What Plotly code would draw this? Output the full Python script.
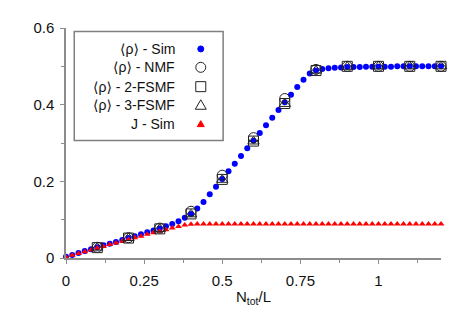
import plotly.graph_objects as go

# --- data ---
x_sim = [0.00, 0.02, 0.04, 0.06, 0.08, 0.10, 0.12, 0.14, 0.16, 0.18,
         0.20, 0.22, 0.24, 0.26, 0.28, 0.30, 0.32, 0.34, 0.36, 0.38,
         0.40, 0.42, 0.44, 0.46, 0.48, 0.50, 0.52, 0.54, 0.56, 0.58,
         0.60, 0.62, 0.64, 0.66, 0.68, 0.70, 0.72, 0.74, 0.76, 0.78,
         0.80, 0.82, 0.84, 0.86, 0.88, 0.90, 0.92, 0.94, 0.96, 0.98,
         1.00, 1.02, 1.04, 1.06, 1.08, 1.10, 1.12, 1.14, 1.16, 1.18, 1.20]

rho_sim = [0.003, 0.008, 0.013, 0.018, 0.023, 0.028, 0.033, 0.037, 0.042, 0.047,
           0.052, 0.057, 0.062, 0.067, 0.072, 0.077, 0.083, 0.089, 0.096, 0.105,
           0.115, 0.129, 0.146, 0.166, 0.186, 0.206, 0.226, 0.246, 0.266, 0.286,
           0.306, 0.326, 0.346, 0.366, 0.386, 0.406, 0.426, 0.446, 0.465, 0.481,
           0.489, 0.493, 0.495, 0.496, 0.497, 0.498, 0.498, 0.498, 0.499, 0.499,
           0.499, 0.499, 0.499, 0.500, 0.500, 0.500, 0.500, 0.500, 0.500, 0.500, 0.500]

j_sim = [0.002, 0.007, 0.012, 0.016, 0.021, 0.026, 0.030, 0.035, 0.039, 0.044,
         0.048, 0.053, 0.057, 0.062, 0.066, 0.070, 0.074, 0.078, 0.082, 0.086,
         0.088, 0.0885, 0.0885, 0.0885, 0.0885, 0.0885, 0.0885, 0.0885, 0.0885, 0.0885,
         0.0885, 0.0885, 0.0885, 0.0885, 0.0885, 0.0885, 0.0885, 0.0885, 0.0885, 0.0885,
         0.0885, 0.0885, 0.0885, 0.0885, 0.0885, 0.0885, 0.0885, 0.0885, 0.0885, 0.0885,
         0.0885, 0.0885, 0.0885, 0.0885, 0.0885, 0.0885, 0.0885, 0.0885, 0.0885, 0.0885, 0.0885]

x_mf = [0.1, 0.2, 0.3, 0.4, 0.5, 0.6, 0.7, 0.8, 0.9, 1.0, 1.1, 1.2]
rho_nmf = [0.028, 0.053, 0.078, 0.122, 0.216, 0.314, 0.416, 0.492, 0.500, 0.500, 0.500, 0.500]
rho_2fsmf = [0.027, 0.052, 0.076, 0.115, 0.205, 0.305, 0.403, 0.489, 0.500, 0.500, 0.500, 0.500]
rho_3fsmf = [0.027, 0.052, 0.076, 0.114, 0.204, 0.304, 0.402, 0.489, 0.499, 0.500, 0.500, 0.500]

names = ["⟨ρ⟩ - Sim", "⟨ρ⟩ - NMF", "⟨ρ⟩ - 2-FSMF", "⟨ρ⟩ - 3-FSMF", "J - Sim"]

x_ticks = [0, 0.25, 0.5, 0.75, 1]
x_ticklabels = ["0", "0.25", "0.5", "0.75", "1"]
y_ticks = [0, 0.2, 0.4, 0.6]
y_ticklabels = ["0", "0.2", "0.4", "0.6"]

FONT = "Liberation Sans, Arial, DejaVu Sans, sans-serif"
AXIS = "#8c8c8c"
INK = "#222222"

fig = go.Figure()

fig.add_trace(go.Scatter(x=x_sim, y=rho_sim, mode="markers", name=names[0],
                         marker=dict(symbol="circle", size=6, color="#0000ff"),
                         cliponaxis=False))
fig.add_trace(go.Scatter(x=x_sim, y=j_sim, mode="markers", name=names[4],
                         marker=dict(symbol="triangle-up", size=6, color="#ff0000"),
                         cliponaxis=False))

open_style = dict(size=10, color=INK, line=dict(color=INK, width=1))
fig.add_trace(go.Scatter(x=x_mf, y=rho_nmf, mode="markers", name=names[1],
                         marker=dict(symbol="circle-open", **open_style), cliponaxis=False))
fig.add_trace(go.Scatter(x=x_mf, y=rho_2fsmf, mode="markers", name=names[2],
                         marker=dict(symbol="square-open", **open_style), cliponaxis=False))
fig.add_trace(go.Scatter(x=x_mf, y=rho_3fsmf, mode="markers", name=names[3],
                         marker=dict(symbol="triangle-up-open", **open_style), cliponaxis=False))

# --- hand-made legend: text right-aligned, symbol on the right ---
fig.add_shape(type="rect", xref="paper", yref="paper",
              x0=0.022, x1=0.419, y0=0.511, y1=0.985,
              line=dict(color="#808080", width=1.5), fillcolor="white", layer="above")

row_y = [0.909, 0.829, 0.745, 0.664, 0.582]
text_x = 0.2955
sym_x = 0.3594
for name, ry in zip(names, row_y):
    fig.add_annotation(xref="paper", yref="paper", x=text_x, y=ry, text=name,
                       showarrow=False, xanchor="right", yanchor="middle",
                       font=dict(size=14, color="#111", family=FONT))

def sym(path=None, kind="path", fill="rgba(0,0,0,0)", color=INK, width=1, ry=0.5, r=3):
    d = dict(xref="paper", yref="paper", xsizemode="pixel", ysizemode="pixel",
             xanchor=sym_x, yanchor=ry, layer="above",
             line=dict(color=color, width=width), fillcolor=fill)
    if kind == "path":
        d.update(type="path", path=path)
    else:
        d.update(type=kind, x0=-r, x1=r, y0=-r, y1=r)
    fig.add_shape(**d)

sym(kind="circle", fill="#0000ff", color="#0000ff", ry=row_y[0], r=3)
sym(kind="circle", ry=row_y[1], r=5)
sym(kind="rect", ry=row_y[2], r=5)
sym(path="M -5.5,-4 L 5.5,-4 L 0,5.5 Z", ry=row_y[3])
sym(path="M -3.5,-2.5 L 3.5,-2.5 L 0,3.5 Z", fill="#ff0000", color="#ff0000", ry=row_y[4])

# page body has an 8px margin, so the figure is shrunk by that much
fig.update_layout(
    width=461, height=320,
    margin=dict(l=58, r=28, t=11, b=70),
    paper_bgcolor="white", plot_bgcolor="white",
    showlegend=False,
    font=dict(family=FONT, size=15, color="#111"),
    xaxis=dict(
        range=[0, 1.2], tickvals=x_ticks, ticktext=x_ticklabels,
        showgrid=False, zeroline=False, showline=True, linecolor=AXIS, linewidth=1.5,
        ticks="outside", ticklen=4, tickcolor=AXIS, tickwidth=1,
        minor=dict(dtick=0.125, tick0=0, ticks="outside", ticklen=3, tickcolor=AXIS, showgrid=False),
        tickfont=dict(size=15), ticklabelstandoff=4,
        title=dict(text="N<sub>tot</sub>/L", font=dict(size=15), standoff=4),
    ),
    yaxis=dict(
        range=[0, 0.6], tickvals=y_ticks, ticktext=y_ticklabels,
        showgrid=False, zeroline=False, showline=True, linecolor=AXIS, linewidth=1.5,
        ticks="outside", ticklen=4, tickcolor=AXIS, tickwidth=1,
        minor=dict(dtick=0.1, tick0=0, ticks="outside", ticklen=3, tickcolor=AXIS, showgrid=False),
        tickfont=dict(size=15), ticklabelstandoff=3,
    ),
)

fig.write_html("out.html")
